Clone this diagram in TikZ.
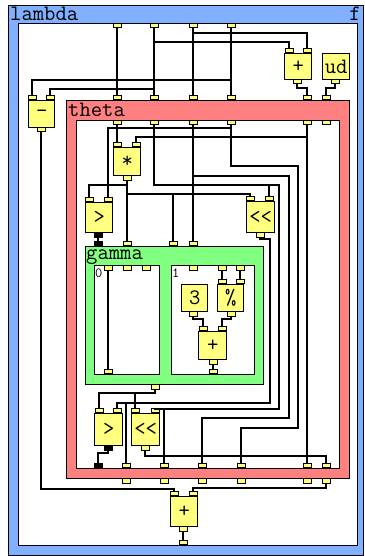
\documentclass[tikz,border=0pt]{standalone}
\usepackage{tikz}
\usetikzlibrary{positioning, calc}
\definecolor{LambdaBlue}{RGB}{128, 176, 255}
\definecolor{ThetaRed}{RGB}{255, 128, 128}
\definecolor{GammaGreen}{RGB}{128, 255, 128}
\definecolor{OpYellow}{RGB}{255, 255, 128}
\newcommand{\opfont}{\ttfamily\fontsize{22}{22}\selectfont}
\newcommand{\idxfont}{\ttfamily\fontsize{14}{14}\selectfont}
\tikzset{
  cont/.style={draw, line width=1.4pt, inner sep=0pt, anchor=north west},
  op/.style={draw, fill=OpYellow, line width=1.4pt, inner sep=0pt,
    anchor=north west, font=\opfont},
  port/.style={draw, fill=OpYellow, line width=0.8pt, minimum width=8pt,
    minimum height=4.5pt, inner sep=0pt},
  cport/.style={port, fill=black},
  ttl/.style={inner sep=0pt, anchor=base west, font=\opfont},
  wire/.style={line width=1.2pt},
}
\begin{document}
\begin{tikzpicture}[x=1pt, y=-1pt]
  \useasboundingbox (0,0) rectangle (364,556);
  % containers
  \node[cont, fill=LambdaBlue, minimum width=355pt, minimum height=550pt] (lam) at (8,5) {};
  \node[cont, fill=white, minimum width=339pt, minimum height=522pt] (lamin) at (18,23) {};
  \node[ttl] at (10,21) {lambda};
  \node[ttl, anchor=base east] at (361,21) {f};
  \node[cont, fill=ThetaRed, minimum width=283pt, minimum height=378pt] (th) at (66,100) {};
  \node[cont, fill=white, minimum width=263pt, minimum height=348pt] (thin) at (76,120) {};
  \node[ttl] at (68,117) {theta};
  \node[cont, fill=GammaGreen, minimum width=178pt, minimum height=138pt] (gam) at (85,246) {};
  \node[cont, fill=white, minimum width=65pt, minimum height=109pt] (gz) at (94,265) {};
  \node[cont, fill=white, minimum width=83pt, minimum height=109pt] (gn) at (171,265) {};
  \node[ttl] at (86,259) {gamma};
  \node[ttl, font=\idxfont] at (95,277) {0};
  \node[ttl, font=\idxfont] at (172,277) {1};

  % operators
  \node[op, minimum width=27pt, minimum height=26pt] (pa) at (284,53) {+};
  \node[op, minimum width=27pt, minimum height=26pt] (ud) at (322,53) {ud};
  \node[op, minimum width=26pt, minimum height=27pt] (mi) at (28,100) {-};
  \node[op, minimum width=27pt, minimum height=30pt] (pb) at (170,496) {+};
  \node[op, minimum width=27pt, minimum height=28pt] (st) at (113,147) {*};
  \node[op, minimum width=27pt, minimum height=30pt] (gt1) at (85,202) {>};
  \node[op, minimum width=28pt, minimum height=31pt] (sh1) at (246,201) {<<};
  \node[op, minimum width=26pt, minimum height=27pt] (three) at (181,284) {3};
  \node[op, minimum width=26pt, minimum height=27pt] (md) at (217,284) {\%};
  \node[op, minimum width=28pt, minimum height=28pt] (pc) at (198,331) {+};
  \node[op, minimum width=28pt, minimum height=32pt] (gt2) at (94,413) {>};
  \node[op, minimum width=28pt, minimum height=32pt] (sh2) at (131,413) {<<};

  % ports of the containers
  \foreach \x/\n in {117/a,154/b,193/c,231/d}
    \node[port, anchor=north] (l\n) at (\x,23) {};
  \node[port, anchor=south] (lo) at (183,545) {};
  \foreach \x/\n in {117/a,154/b,193/c,231/d,307/e,326/f} {
    \node[port, anchor=south] (t\n) at (\x,100) {};
    \node[port, anchor=north] (i\n) at (\x,120) {};
  }
  \foreach \x/\n in {126/a,164/b,202/c,241/d,307/e,326/f} {
    \node[port, anchor=south] (b\n) at (\x,468) {};
    \node[port, anchor=north] (o\n) at (\x,478) {};
  }
  \node[cport, anchor=south] (bk) at (98,468) {};
  \node[cport, anchor=south] (gk) at (98,246) {};
  \foreach \x/\n in {127/a,173/b,193/c}
    \node[port, anchor=south] (g\n) at (\x,246) {};
  \node[port, anchor=north] (go) at (155,384) {};
  \foreach \x/\n in {108/a,127/b,146/c}
    \node[port, anchor=north] (z\n) at (\x,265) {};
  \node[port, anchor=south] (zo) at (108,374) {};
  \foreach \x/\n in {193/a,222/b,240/c}
    \node[port, anchor=north] (n\n) at (\x,265) {};
  \node[port, anchor=south] (no) at (213,374) {};

  % ports of the operators
  \node[port, anchor=south] (paa) at (289,53) {}; \node[port, anchor=south] (pab) at (307,53) {};
  \node[port, anchor=north] (pao) at (297,79) {};
  \node[port, anchor=north] (udo) at (335,79) {};
  \node[port, anchor=south] (mia) at (32,100) {}; \node[port, anchor=south] (mib) at (50,100) {};
  \node[port, anchor=north] (mio) at (41,127) {};
  \node[port, anchor=south] (pba) at (174,496) {}; \node[port, anchor=south] (pbb) at (193,496) {};
  \node[port, anchor=north] (pbo) at (183,526) {};
  \node[port, anchor=south] (sta) at (117,147) {}; \node[port, anchor=south] (stb) at (136,147) {};
  \node[port, anchor=north] (sto) at (127,175) {};
  \node[port, anchor=south] (g1a) at (89,202) {}; \node[port, anchor=south] (g1b) at (108,202) {};
  \node[cport, anchor=north] (g1o) at (98,232) {};
  \node[port, anchor=south] (s1a) at (250,201) {}; \node[port, anchor=south] (s1b) at (269,201) {};
  \node[port, anchor=north] (s1o) at (260,232) {};
  \node[port, anchor=north] (tho) at (193,311) {};
  \node[port, anchor=south] (mda) at (222,284) {}; \node[port, anchor=south] (mdb) at (240,284) {};
  \node[port, anchor=north] (mdo) at (231,311) {};
  \node[port, anchor=south] (pca) at (203,331) {}; \node[port, anchor=south] (pcb) at (222,331) {};
  \node[port, anchor=north] (pco) at (213,359) {};
  \node[port, anchor=south] (g2a) at (99,413) {}; \node[port, anchor=south] (g2b) at (117,413) {};
  \node[cport, anchor=north] (g2o) at (108,445) {};
  \node[port, anchor=south] (s2a) at (135,413) {}; \node[port, anchor=south] (s2b) at (155,413) {};
  \node[port, anchor=north] (s2o) at (145,445) {};

  % wires in lambda
  \draw[wire] (la)--(ta); \draw[wire] (lb)--(tb);
  \draw[wire] (lc)--(tc); \draw[wire] (ld)--(td);
  \draw[wire] (lb |- 0,42) -| (paa);
  \draw[wire] (lc |- 0,33) -| (pab);
  \draw[wire] (ld |- 0,80) -| (mia);
  \draw[wire] (lb |- 0,89) -| (mib);
  \draw[wire] (pao) -- (pao |- 0,88) -| (te);
  \draw[wire] (udo) -- (udo |- 0,88) -| (tf);
  \draw[wire] (mio) -- (mio |- 0,489) -| (pba);
  \draw[wire] (of) -- (of |- 0,488) -| (pbb);
  \draw[wire] (pbo)--(lo);

  % wires in theta
  \draw[wire] (ia)--(sta); \draw[wire] (ie)--(be);
  \draw[wire] (id |- 0,128) -| (g1b);
  \draw[wire] (ie |- 0,137) -| (stb);
  \draw[wire] (sto)--(ga);
  \draw[wire] (sto |- 0,185) -| (g1a);
  \draw[wire] (sto |- 0,194) -| (s1a);
  \draw[wire] (gb |- 0,194) -- (gb);
  \draw[wire] (g1o)--(gk); \draw[wire] (ic)--(gc);
  \draw[wire] (ic |- 0,176) -| (289,418) -| (bc);
  \draw[wire] (id) -- (id |- 0,166) -| (298,428) -| (bd);
  \draw[wire] (ib) -- (ib |- 0,185) -| (279,409) -| (s2b);
  \draw[wire] (s1b |- 0,185) -- (s1b);
  \draw[wire] (bb |- 0,409) -- (bb);
  \draw[wire] (s1o) -- (s1o |- 0,239) -| (270,403) -| (g2b);
  \draw[wire] (ba |- 0,403) -- (ba);
  \draw[wire] (go) -- (go |- 0,393) -| (g2a);
  \draw[wire] (s2a |- 0,393) -- (s2a);
  \draw[wire] (s2o) -- (s2o |- 0,456) -| (bf);
  \draw[wire] (g2o) -- (g2o |- 0,453) -| (bk);

  % wires in gamma
  \draw[wire] (za)--(zo);
  \draw[wire] (nb)--(mda); \draw[wire] (nc)--(mdb);
  \draw[wire] (tho) -- (tho |- 0,319) -| (pca);
  \draw[wire] (mdo) -- (mdo |- 0,319) -| (pcb);
  \draw[wire] (pco)--(no);
\end{tikzpicture}
\end{document}
